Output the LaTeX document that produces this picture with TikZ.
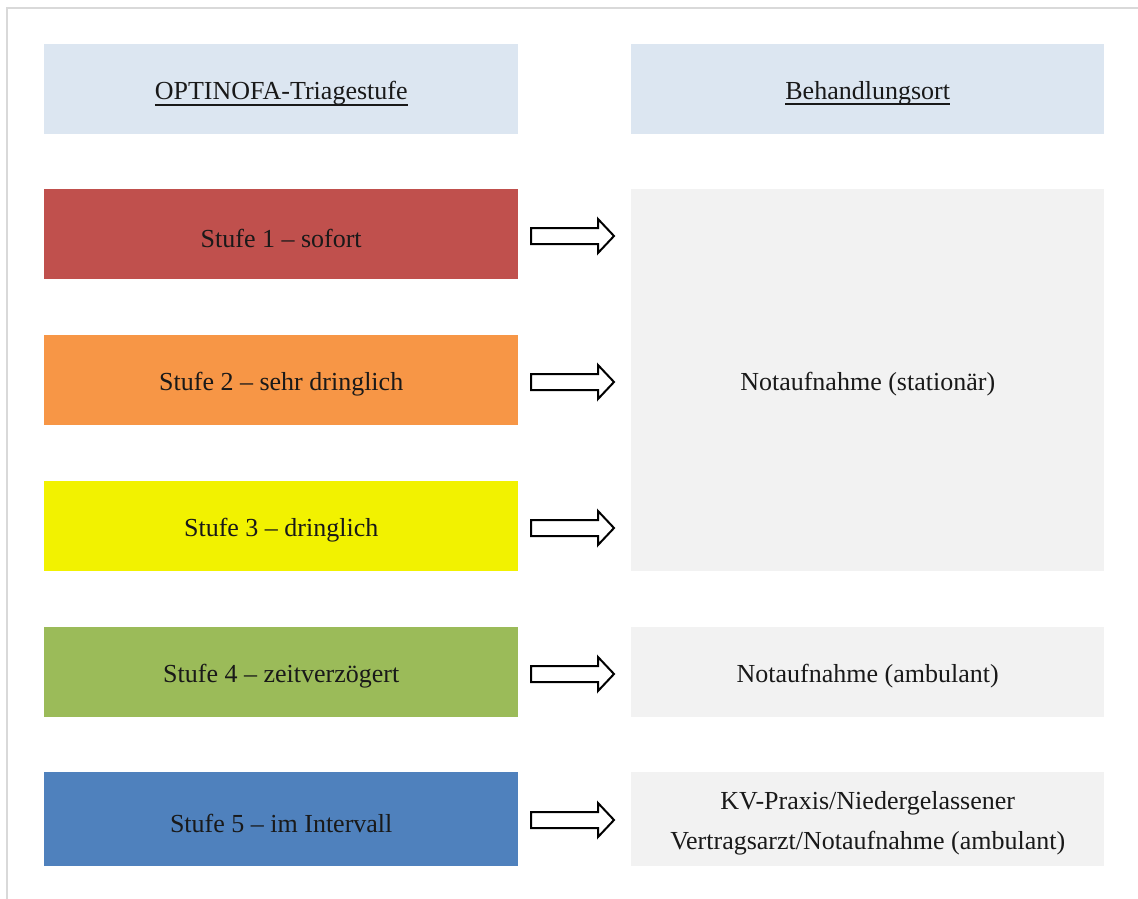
\documentclass[tikz,border=0pt]{standalone}
\usepackage{fontspec}
\setmainfont{Liberation Serif}
\definecolor{hdr}{HTML}{DCE6F1}
\definecolor{s1}{HTML}{C0504D}
\definecolor{s2}{HTML}{F79646}
\definecolor{s3}{HTML}{F2F200}
\definecolor{s4}{HTML}{9BBB59}
\definecolor{s5}{HTML}{4F81BD}
\definecolor{place}{HTML}{F2F2F2}
\definecolor{frame}{HTML}{D9D9D9}
\newcommand\hdrul[1]{\leavevmode\setbox0\hbox{#1}\rlap{\smash{\vrule width\wd0 height-4pt depth6pt}}\box0}
\begin{document}
\begin{tikzpicture}[x=1pt,y=-1pt,
  box/.style={rectangle, inner sep=0pt, anchor=north west, draw=none},
  leftbox/.style={box, minimum width=474pt, minimum height=90pt},
  rightbox/.style={box, minimum width=473pt, minimum height=90pt},
  txt/.style={inner sep=0pt, font=\fontsize{26}{40}\selectfont, text=black!90, align=center, yshift=-4pt},
  barrow/.pic={\draw[line width=2pt, fill=white, line join=miter]
    (0,-8) -- (67,-8) -- (67,-17) -- (83,0) -- (67,17) -- (67,8) -- (0,8) -- cycle;}
]
\useasboundingbox (0,0) rectangle (1138,899);
\draw[frame, line width=2pt] (7,899) -- (7,8) -- (1138,8);

\node[leftbox, fill=hdr] (h1) at (44,44) {};
\node[rightbox, fill=hdr] (h2) at (631,44) {};
\node[leftbox, fill=s1] (r1) at (44,189) {};
\node[leftbox, fill=s2] (r2) at (44,335) {};
\node[leftbox, fill=s3] (r3) at (44,481) {};
\node[leftbox, fill=s4] (r4) at (44,627) {};
\node[leftbox, fill=s5, minimum height=94pt] (r5) at (44,772) {};
\node[rightbox, fill=place, minimum height=382pt] (p1) at (631,189) {};
\node[rightbox, fill=place] (p2) at (631,627) {};
\node[rightbox, fill=place, minimum height=94pt] (p3) at (631,772) {};

\node[txt] (th1) at (h1.center) {\hdrul{OPTINOFA-Triagestufe}};
\node[txt] (th2) at (h2.center) {\hdrul{Behandlungsort}};
\node[txt] (tr1) at (r1.center) {Stufe 1 -- sofort};
\node[txt] (tr2) at (r2.center) {Stufe 2 -- sehr dringlich};
\node[txt] (tr3) at (r3.center) {Stufe 3 -- dringlich};
\node[txt] (tr4) at (r4.center) {Stufe 4 -- zeitverzögert};
\node[txt] (tr5) at (r5.center) {Stufe 5 -- im Intervall};
\node[txt] (tp1) at (p1.center) {Notaufnahme (stationär)};
\node[txt] (tp2) at (p2.center) {Notaufnahme (ambulant)};
\node[txt] (tp3) at (p3.center) {KV-Praxis/Niedergelassener\\Vertragsarzt/Notaufnahme (ambulant)};

\pic at (531,236) {barrow};
\pic at (531,382) {barrow};
\pic at (531,528) {barrow};
\pic at (531,674) {barrow};
\pic at (531,820) {barrow};
\end{tikzpicture}
\end{document}
